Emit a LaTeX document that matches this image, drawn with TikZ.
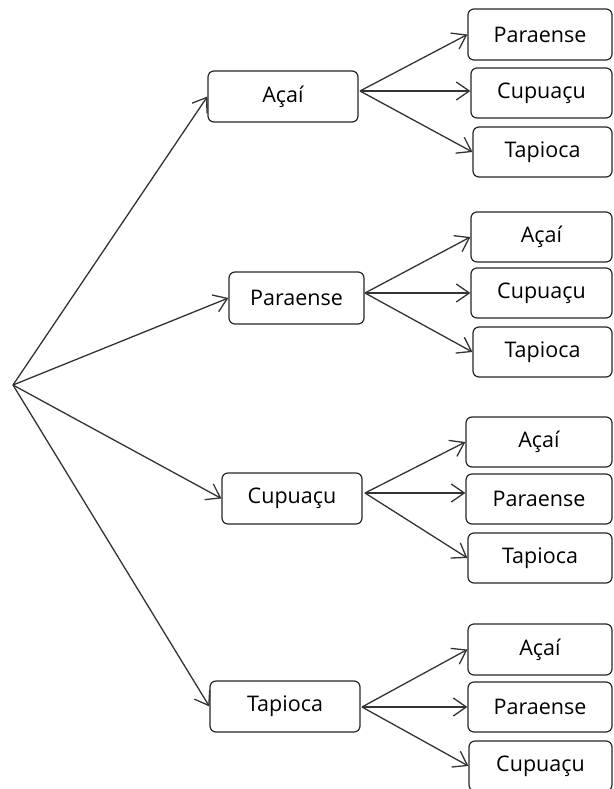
\documentclass[tikz,border=0pt]{standalone}
\usepackage{fontspec}
\setmainfont{Open Sans}
\usetikzlibrary{arrows.meta}
\tikzset{
  box/.style={draw=black!85, line width=1.2pt, rounded corners=6pt, inner sep=0pt,
    font=\fontsize{21.5}{24}\selectfont, text=black},
  conn/.style={draw=black!80, line width=1.3pt, -{Straight Barb[length=13pt,width=18pt,line width=1.3pt]}}
}
\newcommand{\bx}[6]{\node[box, minimum width={(#4-#2)*1pt}, minimum height={(#5-#3)*1pt}] (#1) at ({(#2+#4)/2},{(#3+#5)/2}) {#6};}
\begin{document}
\begin{tikzpicture}[x=1pt,y=-1pt]
\useasboundingbox (0,0) rectangle (613,789);
\clip (0,0) rectangle (613,789);
\coordinate (root) at (13,385);
% middle
\bx{m1}{208}{71}{358}{122}{Açaí}
\bx{m2}{229}{272}{364}{324}{Paraense}
\bx{m3}{222}{473}{362}{524}{Cupuaçu}
\bx{m4}{210}{681}{360}{732}{Tapioca}
% arrow origins on the right side of the middle boxes
\coordinate (s1) at (360,91);
\coordinate (s2) at (365,293);
\coordinate (s3) at (365,493);
\coordinate (s4) at (362,707);
% right
\bx{r11}{468}{9}{612}{60}{Paraense}
\bx{r12}{471}{68}{612}{118}{Cupuaçu}
\bx{r13}{473}{127}{612}{177}{Tapioca}
\bx{r21}{471}{212}{612}{262}{Açaí}
\bx{r22}{471}{268}{612}{318}{Cupuaçu}
\bx{r23}{473}{327}{612}{377}{Tapioca}
\bx{r31}{466}{417}{612}{467}{Açaí}
\bx{r32}{466}{474}{612}{524}{Paraense}
\bx{r33}{468}{533}{612}{583}{Tapioca}
\bx{r41}{468}{624}{612}{675}{Açaí}
\bx{r42}{468}{682}{612}{732}{Paraense}
\bx{r43}{469}{741}{612}{791}{Cupuaçu}
% connectors
\foreach \m in {1,2,3,4}{
  \draw[conn] (root) -- (m\m.west);
  \draw[conn] (s\m) -- (r\m1.west);
  \draw[conn] (s\m) -- (s\m -| r\m2.west);
  \draw[conn] (s\m) -- (r\m3.west);
}
\end{tikzpicture}
\end{document}
